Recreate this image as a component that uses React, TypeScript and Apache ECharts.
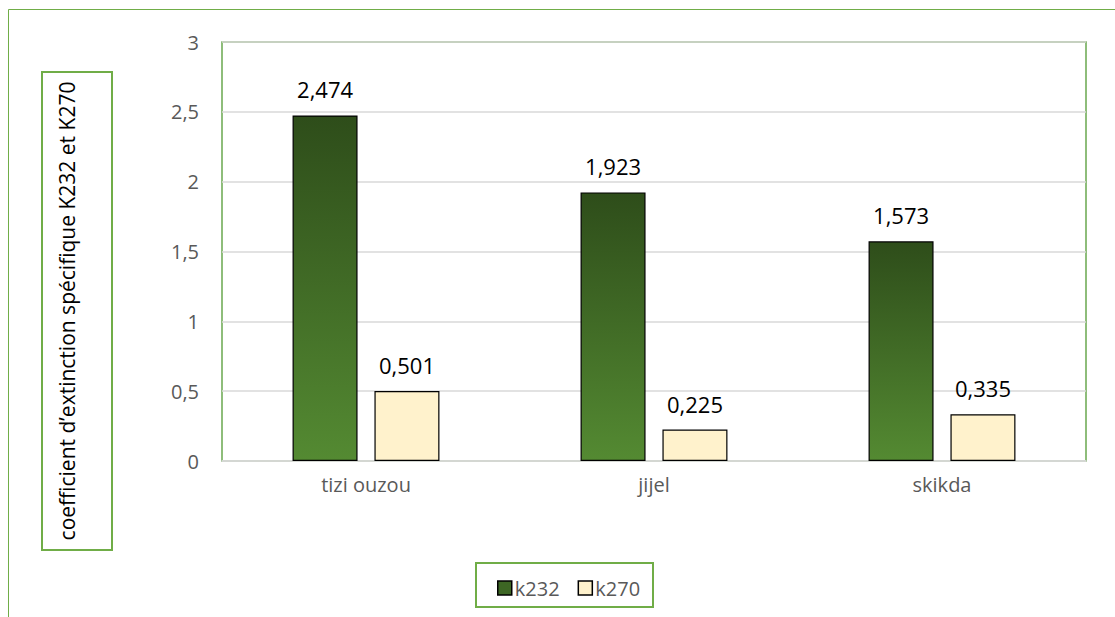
import React, { useEffect, useRef } from "react";
import * as echarts from "echarts";

const categories = ["tizi ouzou", "jijel", "skikda"];
const k232 = [2.474, 1.923, 1.573];
const k270 = [0.501, 0.225, 0.335];
const seriesNames = ["k232", "k270"];
const yTitle = "coefficient d’extinction spécifique K232 et K270";

const FONT = "'Open Sans', 'Noto Sans', sans-serif";
const fmt = (v: number) => String(v).replace(".", ",");

export default function App() {
  const ref = useRef<HTMLDivElement>(null);
  useEffect(() => {
    const chart = echarts.init(ref.current!, null, { renderer: "svg" });
    const green = new echarts.graphic.LinearGradient(0, 0, 0, 1, [
      { offset: 0, color: "#2e4d1a" },
      { offset: 1, color: "#548a32" },
    ]);
    const label = {
      show: true,
      position: "top",
      distance: 15,
      fontSize: 22,
      color: "#000",
      fontFamily: FONT,
      formatter: (p: any) => fmt(p.value),
    };
    chart.setOption({
      animation: false,
      backgroundColor: "#ffffff",
      textStyle: { fontFamily: FONT },
      grid: {
        left: 222,
        right: 29,
        top: 42,
        bottom: 156,
        show: true,
        borderColor: "#6aa84f",
        borderWidth: 1.5,
        backgroundColor: "transparent",
      },
      legend: {
        left: 492,
        top: 573,
        itemWidth: 14,
        itemHeight: 14,
        itemGap: 18,
        icon: "rect",
        textStyle: { fontSize: 20, color: "#595959", fontFamily: FONT, padding: [0, 0, 0, -2] },
        data: [
          { name: seriesNames[0], itemStyle: { color: "#3d6624", borderColor: "#000", borderWidth: 1.5 } },
          { name: seriesNames[1], itemStyle: { color: "#fff2cc", borderColor: "#000", borderWidth: 1.5 } },
        ],
      },
      xAxis: {
        type: "category",
        data: categories,
        axisLine: { lineStyle: { color: "#d9d9d9", width: 1.5 } },
        axisTick: { show: false },
        axisLabel: { fontSize: 20, color: "#595959", margin: 13, fontFamily: FONT },
      },
      yAxis: {
        type: "value",
        min: 0,
        max: 3,
        interval: 0.5,
        axisLine: { show: false },
        axisTick: { show: false },
        splitLine: { lineStyle: { color: "#d9d9d9", width: 1.5 } },
        axisLabel: { fontSize: 20, color: "#595959", margin: 23, formatter: (v: number) => fmt(v), fontFamily: FONT },
      },
      series: [
        {
          name: seriesNames[0],
          type: "bar",
          data: k232,
          barWidth: 65,
          barGap: "26%",
          itemStyle: { color: green, borderColor: "#000", borderWidth: 1.2 },
          label,
        },
        {
          name: seriesNames[1],
          type: "bar",
          data: k270,
          barWidth: 65,
          itemStyle: { color: "#fff2cc", borderColor: "#000", borderWidth: 1.2 },
          label,
        },
      ],
      graphic: [
        {
          type: "rect",
          shape: { x: 8.5, y: 9.5, width: 1200, height: 700 },
          style: { fill: "none", stroke: "#70ad47", lineWidth: 1 },
          silent: true,
          z: -1,
        },
        {
          type: "rect",
          shape: { x: 42, y: 72, width: 70, height: 478 },
          style: { fill: "#fff", stroke: "#70ad47", lineWidth: 2 },
          silent: true,
        },
        {
          type: "text",
          x: 67,
          y: 311,
          rotation: Math.PI / 2,
          style: {
            text: yTitle,
            fontSize: 21,
            fontFamily: FONT,
            fill: "#000",
            align: "center",
            verticalAlign: "middle",
          },
          silent: true,
        },
        {
          type: "rect",
          shape: { x: 476, y: 563, width: 177, height: 44 },
          style: { fill: "#fff", stroke: "#70ad47", lineWidth: 2 },
          silent: true,
          z: -1,
        },
      ],
    });
    return () => chart.dispose();
  }, []);
  return (
    <div
      ref={ref}
      style={{ position: "fixed", left: 0, top: 0, width: 1115, height: 617 }}
    />
  );
}
